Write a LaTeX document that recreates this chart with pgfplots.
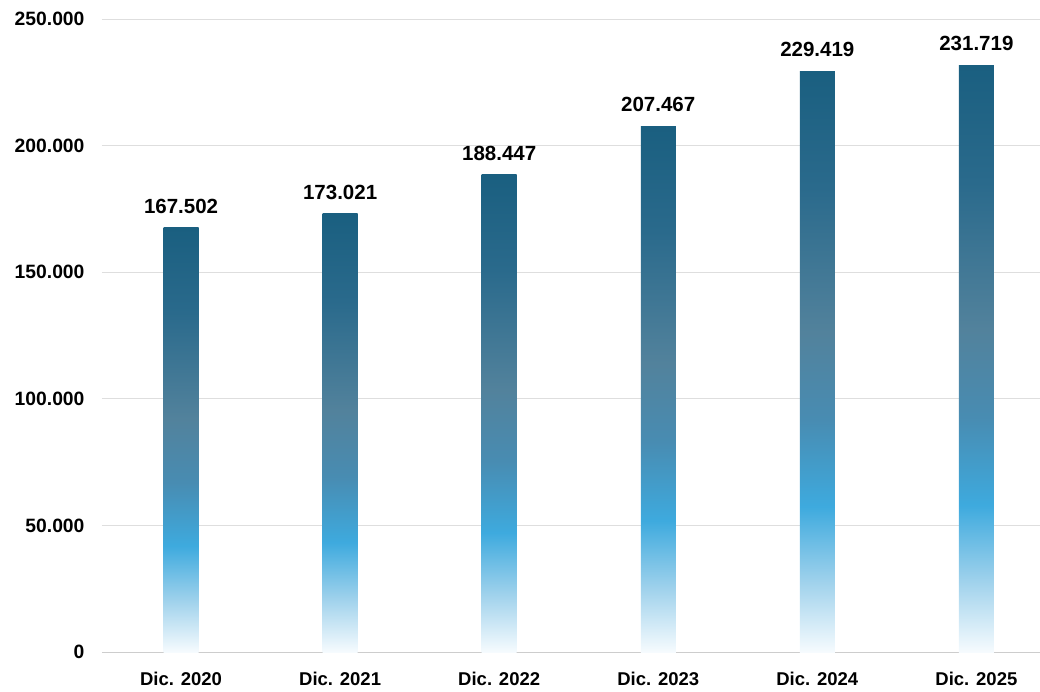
\documentclass[border=0pt]{standalone}
\usepackage{pgfplots}
\pgfplotsset{compat=1.18}
\usepackage{fontspec}
\setmainfont{Liberation Sans}
\definecolor{s0}{RGB}{246,251,254}
\definecolor{s1}{RGB}{160,210,236}
\definecolor{s2}{RGB}{62,170,222}
\definecolor{s3}{RGB}{72,140,178}
\definecolor{s4}{RGB}{82,130,156}
\definecolor{s5}{RGB}{42,106,140}
\definecolor{s6}{RGB}{26,95,128}
\pgfdeclareverticalshading{barshade}{100bp}{color(0bp)=(s0); color(25bp)=(s0); color(31bp)=(s1); color(37.5bp)=(s2); color(45bp)=(s3); color(52.5bp)=(s4); color(65bp)=(s5); color(75bp)=(s6); color(100bp)=(s6)}
\pgfplotsset{mybar/.style={ybar, bar width=0.22, bar shift=0pt, draw=none, shading=barshade, shade,
  nodes near coords={\pgfmathprintnumber[fixed,precision=0,1000 sep={.}]{\pgfplotspointmeta}},
  nodes near coords style={font=\fontsize{20.5}{24}\selectfont\bfseries, text=black, anchor=south, yshift=11pt},
  point meta=explicit}}
\begin{document}
\begin{tikzpicture}
\path[use as bounding box] (-102pt,-39pt) rectangle (938pt,652pt);
\begin{axis}[
  at={(0,0)}, anchor=south west,
  scale only axis, width=938pt, height=633pt,
  xmin=-0.497, xmax=5.4, ymin=0, ymax=250000,
  ytick={0,50000,100000,150000,200000,250000},
  scaled y ticks=false,
  yticklabel style={/pgf/number format/fixed, /pgf/number format/1000 sep={.}, xshift=-14pt, font=\fontsize{19.3}{22}\selectfont\bfseries},
  /pgf/number format/assume math mode=true,
  xtick={0,1,2,3,4,5},
  xticklabels={Dic. 2020,Dic. 2021,Dic. 2022,Dic. 2023,Dic. 2024,Dic. 2025},
  xticklabel style={yshift=-17pt, font=\fontsize{18.5}{22}\selectfont\bfseries},
  ticklabel style={text=black},
  major tick length=0pt,
  ymajorgrids, major grid style={draw={rgb,255:red,222;green,222;blue,222}, line width=0.8pt},
  axis x line*=bottom, axis y line*=left,
  x axis line style={draw={rgb,255:red,205;green,205;blue,205}, line width=1pt, -},
  y axis line style={draw=none},
  clip=false,
]
\addplot[mybar] coordinates {(0,167502) [167502]};
\addplot[mybar] coordinates {(1,173021) [173021]};
\addplot[mybar] coordinates {(2,188447) [188447]};
\addplot[mybar] coordinates {(3,207467) [207467]};
\addplot[mybar] coordinates {(4,229419) [229419]};
\addplot[mybar] coordinates {(5,231719) [231719]};
\end{axis}
\end{tikzpicture}
\end{document}
